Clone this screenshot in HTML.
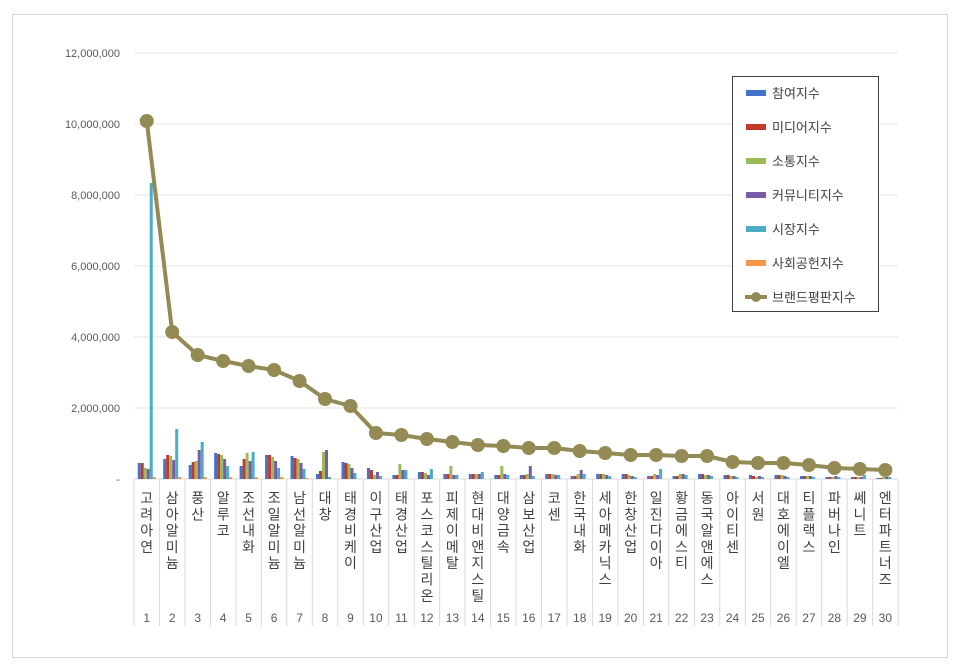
<!DOCTYPE html>
<html><head><meta charset="utf-8"><style>
body{margin:0;background:#fff;}
svg{display:block;font-family:"Liberation Sans","Noto Sans CJK KR",sans-serif;}
</style></head><body>
<svg id="c" width="960" height="671" xmlns="http://www.w3.org/2000/svg"></svg>
<script>
const s=document.getElementById('c');let h='';
h+='<rect x="12.5" y="14.5" width="935" height="643" fill="#fff" stroke="#d9d9d9"/>';
const y0=479,step=71;
for(let i=0;i<=6;i++){const y=y0-i*step;
 if(i>0)h+=`<line x1="134" x2="898" y1="${y}" y2="${y}" stroke="#e4e4e4"/>`;
 const lbl=i==0?'-':(i*2000000).toLocaleString('en-US');
 h+=`<text x="120" y="${y+4}" font-size="11" fill="#595959" text-anchor="end">${lbl}</text>`;}
const x0=134,w=25.47;
for(let i=0;i<=30;i++){const x=x0+i*w;h+=`<line x1="${x}" x2="${x}" y1="479" y2="626" stroke="#d9d9d9"/>`;}
h+=`<line x1="134" x2="898" y1="479" y2="479" stroke="#d9d9d9"/>`;
const cols=['#4472c4','#c0392b','#9bbb59','#7a5ba6','#4bacc6','#f79646'];
const B=[[463,463,468,469,183,477],[459,455,456,460,429,477],[465,462,461,450,442,477],[453,454,455,459,466,477],[466,459,453,461,452,477],[455,455,457,461,468,477],[456,458,459,463,469,478],[474,471,452,450,477,479],[462,463,464,468,473,479],[468,470,475,472,476,479],[475,475,464,470,470,479],[472,472,473,475,469,479],[474,474,466,475,475,479],[474,474,474,474,472,479],[475,475,466,474,475,479],[475,475,474,466,476,479],[474,474,474,475,475,479],[476,476,474,470,474,479],[474,474,474,475,476,479],[474,474,475,476,477,479],[476,476,474,475,469,479],[476,476,474,474,475,479],[474,474,475,475,476,479],[475,475,476,476,477,479],[475,476,477,476,477,479],[475,475,475,476,477,479],[476,476,476,476,477,479],[477,477,477,476,477,479],[477,477,477,477,475,479],[478,478,477,477,477,479]];
B.forEach((b,i)=>{const cx=x0+i*w+w/2;b.forEach((y,j)=>{if(y<479)h+=`<rect x="${cx-9+j*3}" y="${y}" width="3" height="${479-y}" fill="${cols[j]}"/>`;});});
const L=[121,332,355,361,366,370,381,399,406,433,435,439,442,445,446,448,448,451,453,455,455,456,456,462,463,463,465,468,469,470];
h+=`<polyline fill="none" stroke="#948a54" stroke-width="4" stroke-linejoin="round" points="${L.map((y,i)=>(x0+i*w+w/2)+','+y).join(' ')}"/>`;
L.forEach((y,i)=>h+=`<circle cx="${x0+i*w+w/2}" cy="${y}" r="7" fill="#948a54"/>`);
const N=['고려아연','삼아알미늄','풍산','알루코','조선내화','조일알미늄','남선알미늄','대창','태경비케이','이구산업','태경산업','포스코스틸리온','피제이메탈','현대비앤지스틸','대양금속','삼보산업','코센','한국내화','세아메카닉스','한창산업','일진다이아','황금에스티','동국알앤에스','아이티센','서원','대호에이엘','티플랙스','파버나인','쎄니트','엔터파트너즈'];
N.forEach((n,i)=>{const cx=x0+i*w+w/2;[...n].forEach((ch,k)=>h+=`<text x="${cx}" y="${503+k*16.3}" font-size="14" fill="#404040" text-anchor="middle">${ch}</text>`);
 h+=`<text x="${cx}" y="622" font-size="12" fill="#595959" text-anchor="middle">${i+1}</text>`;});
h+='<rect x="732.5" y="76.5" width="146" height="235" fill="#fff" stroke="#404040"/>';
const LG=['참여지수','미디어지수','소통지수','커뮤니티지수','시장지수','사회공헌지수'];
LG.forEach((t,i)=>{const y=93+i*34;h+=`<rect x="746" y="${y-3}" width="20" height="6" fill="${cols[i]}"/><text x="772" y="${y+5}" font-size="13" fill="#404040">${t}</text>`;});
h+='<line x1="745" x2="767" y1="297" y2="297" stroke="#948a54" stroke-width="4"/><circle cx="756" cy="297" r="5" fill="#948a54"/><text x="772" y="302" font-size="13" fill="#404040">브랜드평판지수</text>';
s.innerHTML=h;
</script>
</body></html>
